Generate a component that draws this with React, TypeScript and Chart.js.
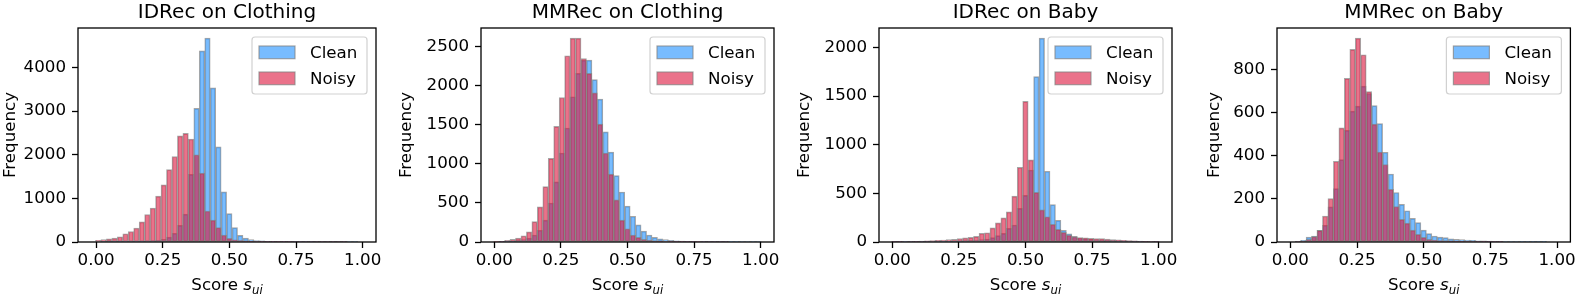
import React, { useEffect, useRef } from 'react';
import { Chart, registerables } from 'chart.js';

Chart.register(...registerables);

// ---------- data ----------
const binStart = -0.0025;
const binWidth = 0.0205;
const binCount = 50;
const binCenters = Array.from({ length: binCount }, (_, k) => binStart + binWidth * (k + 0.5));

const xTickValues = [0, 0.25, 0.5, 0.75, 1.0];
const xTickLabels = ['0.00', '0.25', '0.50', '0.75', '1.00'];

const seriesLabels = ['Clean', 'Noisy'];
const panelTitles = ['IDRec on Clothing', 'MMRec on Clothing', 'IDRec on Baby', 'MMRec on Baby'];

const idClothingClean = [0, 1, 2, 3, 5, 8, 10, 15, 20, 25, 30, 40, 60, 110, 200, 380, 640, 1550, 3060, 4380, 4670, 3530, 2180, 1150, 650, 330, 150, 90, 55, 35, 25, 18, 14, 10, 8, 6, 5, 4, 3, 3, 2, 2, 2, 1, 1, 1, 1, 1, 0, 0];
const idClothingNoisy = [40, 55, 70, 90, 120, 190, 240, 320, 460, 630, 780, 1050, 1310, 1660, 1960, 2430, 2490, 2360, 2000, 1580, 710, 500, 330, 160, 85, 50, 30, 20, 15, 10, 8, 6, 5, 4, 3, 3, 2, 2, 2, 1, 1, 1, 1, 1, 1, 1, 0, 0, 0, 0];
const idClothingYTicks = [0, 1000, 2000, 3000, 4000];

const mmClothingClean = [0, 2, 5, 10, 20, 30, 50, 90, 150, 280, 500, 770, 1140, 1460, 1860, 2160, 2330, 2330, 2080, 1830, 1410, 1150, 850, 640, 460, 330, 220, 140, 90, 60, 40, 30, 20, 15, 12, 10, 8, 6, 5, 4, 3, 3, 2, 2, 2, 1, 1, 1, 1, 0];
const mmClothingNoisy = [5, 10, 20, 35, 50, 80, 130, 260, 450, 710, 1070, 1480, 1850, 2385, 2610, 2610, 2350, 2160, 1910, 1510, 1140, 870, 540, 280, 170, 90, 60, 35, 20, 12, 8, 6, 5, 4, 3, 3, 2, 2, 1, 1, 1, 1, 1, 0, 0, 0, 0, 0, 0, 0];
const mmClothingYTicks = [0, 500, 1000, 1500, 2000, 2500];

const idBabyClean = [1, 1, 2, 2, 3, 3, 4, 5, 6, 7, 8, 10, 12, 14, 16, 18, 24, 30, 45, 65, 89, 140, 175, 346, 480, 740, 1700, 2095, 727, 385, 222, 120, 85, 58, 41, 35, 28, 24, 20, 18, 16, 14, 12, 10, 9, 8, 6, 5, 3, 0];
const idBabyNoisy = [3, 4, 5, 6, 8, 10, 12, 14, 17, 21, 24, 28, 36, 42, 48, 58, 90, 95, 145, 197, 248, 310, 472, 768, 1445, 844, 510, 330, 260, 182, 130, 100, 70, 52, 46, 42, 38, 36, 34, 30, 26, 22, 18, 15, 12, 10, 8, 6, 4, 0];
const idBabyYTicks = [0, 500, 1000, 1500, 2000];

const mmBabyClean = [0, 2, 8, 23, 28, 54, 78, 163, 248, 383, 519, 608, 631, 724, 690, 634, 550, 417, 316, 230, 175, 145, 110, 90, 55, 39, 28, 23, 20, 15, 12, 11, 9, 8, 6, 5, 4, 3, 3, 2, 2, 2, 1, 1, 1, 1, 1, 0, 0, 0];
const mmBabyNoisy = [0, 2, 5, 12, 25, 54, 121, 202, 375, 530, 760, 895, 947, 870, 699, 548, 418, 360, 245, 165, 105, 88, 55, 36, 22, 12, 8, 6, 5, 4, 3, 3, 2, 2, 1, 1, 1, 1, 1, 0, 0, 0, 0, 0, 0, 0, 0, 0, 0, 0];
const mmBabyYTicks = [0, 200, 400, 600, 800];

// ---------- styles / layout ----------
const FONT = '"DejaVu Sans", sans-serif';
const FS = 16.7;
const CLEAN_FILL = 'rgba(30,144,255,0.6)';
const NOISY_FILL = 'rgba(220,20,60,0.6)';
const EDGE = 'rgba(128,128,128,0.7)';
const H = 298;
const PLOT_TOP = 28;
const XAXIS_H = 56;

const panels = [
  { title: panelTitles[0], clean: idClothingClean, noisy: idClothingNoisy, yTicks: idClothingYTicks, left: 0, width: 395, plotLeft: 78, plotRight: 376, xMin: -0.068, xMax: 1.05, yLabelX: 14.5 },
  { title: panelTitles[1], clean: mmClothingClean, noisy: mmClothingNoisy, yTicks: mmClothingYTicks, left: 395, width: 395, plotLeft: 86, plotRight: 379, xMin: -0.05, xMax: 1.05, yLabelX: 16 },
  { title: panelTitles[2], clean: idBabyClean, noisy: idBabyNoisy, yTicks: idBabyYTicks, left: 790, width: 395, plotLeft: 89, plotRight: 382, xMin: -0.05, xMax: 1.05, yLabelX: 19 },
  { title: panelTitles[3], clean: mmBabyClean, noisy: mmBabyNoisy, yTicks: mmBabyYTicks, left: 1185, width: 394, plotLeft: 92, plotRight: 386, xMin: -0.05, xMax: 1.05, yLabelX: 34 },
];

const decorPlugin = {
  id: 'decor',
  afterDraw(chart: any, _args: any, opts: any) {
    const ctx = chart.ctx;
    const a = chart.chartArea;
    const cx = (a.left + a.right) / 2;
    ctx.save();
    // frame (spines)
    ctx.strokeStyle = '#000';
    ctx.lineWidth = 1.3;
    ctx.strokeRect(a.left, a.top, a.right - a.left, a.bottom - a.top);

    // title
    ctx.fillStyle = '#000';
    ctx.font = `20px ${FONT}`;
    ctx.textAlign = 'center';
    ctx.textBaseline = 'alphabetic';
    ctx.fillText(opts.title, cx, a.top - 10);

    // x label: Score s_ui
    ctx.textAlign = 'left';
    ctx.font = `${FS}px ${FONT}`;
    const w1 = ctx.measureText('Score ').width;
    ctx.font = `italic ${FS}px ${FONT}`;
    const w2 = ctx.measureText('s').width;
    ctx.font = `italic ${FS * 0.7}px ${FONT}`;
    const w3 = ctx.measureText('ui').width;
    let x = cx - (w1 + w2 + w3) / 2;
    const by = 290;
    ctx.font = `${FS}px ${FONT}`;
    ctx.fillText('Score ', x, by);
    x += w1;
    ctx.font = `italic ${FS}px ${FONT}`;
    ctx.fillText('s', x, by);
    x += w2;
    ctx.font = `italic ${FS * 0.7}px ${FONT}`;
    ctx.fillText('ui', x, by + 3.5);

    // y label
    ctx.save();
    ctx.translate(opts.yLabelX, (a.top + a.bottom) / 2);
    ctx.rotate(-Math.PI / 2);
    ctx.textAlign = 'center';
    ctx.font = `${FS}px ${FONT}`;
    ctx.fillText('Frequency', 0, 0);
    ctx.restore();

    // legend
    const bw = 115, bh = 57;
    const bx = a.right - 9 - bw;
    const byy = a.top + 9;
    ctx.beginPath();
    if (ctx.roundRect) ctx.roundRect(bx, byy, bw, bh, 3);
    else ctx.rect(bx, byy, bw, bh);
    ctx.fillStyle = 'rgba(255,255,255,0.8)';
    ctx.fill();
    ctx.strokeStyle = 'rgba(204,204,204,0.9)';
    ctx.lineWidth = 1.2;
    ctx.stroke();
    chart.data.datasets.forEach((ds: any, i: number) => {
      const py = byy + 9 + 26 * i;
      ctx.fillStyle = '#fff';
      ctx.fillRect(bx + 7, py, 36, 12.7);
      ctx.fillStyle = ds.backgroundColor;
      ctx.fillRect(bx + 7, py, 36, 12.7);
      ctx.strokeStyle = EDGE;
      ctx.lineWidth = 1.2;
      ctx.strokeRect(bx + 7, py, 36, 12.7);
      ctx.fillStyle = '#000';
      ctx.font = `${FS}px ${FONT}`;
      ctx.textAlign = 'left';
      ctx.fillText(ds.label, bx + 58, byy + 21.4 + 26 * i);
    });
    ctx.restore();
  },
};

function Panel({ p }: { p: any }) {
  const ref = useRef<HTMLCanvasElement | null>(null);
  useEffect(() => {
    if (!ref.current) return;
    const yMax = Math.max(...p.clean, ...p.noisy) * 1.05;
    const mk = (vals: number[]) => vals.map((v, i) => ({ x: binCenters[i], y: v }));
    const tickFont = { family: FONT, size: FS };
    const chart = new Chart(ref.current, {
      type: 'bar',
      data: {
        datasets: [
          { label: seriesLabels[0], data: mk(p.clean), backgroundColor: CLEAN_FILL, borderColor: EDGE, borderWidth: 1, borderSkipped: false, grouped: false, barPercentage: 1, categoryPercentage: 1, order: 1 },
          { label: seriesLabels[1], data: mk(p.noisy), backgroundColor: NOISY_FILL, borderColor: EDGE, borderWidth: 1, borderSkipped: false, grouped: false, barPercentage: 1, categoryPercentage: 1, order: 0 },
        ],
      } as any,
      options: {
        responsive: false,
        maintainAspectRatio: false,
        animation: false,
        devicePixelRatio: 1,
        layout: { padding: { left: 0, right: p.width - p.plotRight, top: PLOT_TOP, bottom: 0 } },
        plugins: {
          legend: { display: false },
          tooltip: { enabled: false },
          title: { display: false },
          decor: { title: p.title, yLabelX: p.yLabelX },
        } as any,
        scales: {
          x: {
            type: 'linear',
            min: p.xMin,
            max: p.xMax,
            offset: false,
            afterBuildTicks: (s: any) => { s.ticks = xTickValues.map((v) => ({ value: v })); },
            afterFit: (s: any) => { s.height = XAXIS_H; },
            ticks: { font: tickFont, color: '#000', padding: 3, maxRotation: 0, autoSkip: false, callback: (_v: any, i: number) => xTickLabels[i] },
            grid: { display: true, drawOnChartArea: false, drawTicks: true, tickLength: 6, tickWidth: 1.3, tickColor: '#000', offset: false },
            border: { display: false },
          },
          y: {
            type: 'linear',
            min: 0,
            max: yMax,
            afterBuildTicks: (s: any) => { s.ticks = p.yTicks.map((v: number) => ({ value: v })); },
            afterFit: (s: any) => { s.width = p.plotLeft; },
            ticks: { font: tickFont, color: '#000', padding: 6, autoSkip: false, callback: (v: any) => String(v) },
            grid: { display: true, drawOnChartArea: false, drawTicks: true, tickLength: 6, tickWidth: 1.3, tickColor: '#000' },
            border: { display: false },
          },
        } as any,
      },
      plugins: [decorPlugin as any],
    });
    return () => chart.destroy();
  }, [p]);
  return (
    <canvas
      ref={ref}
      width={p.width}
      height={H}
      style={{ position: 'absolute', left: p.left, top: 0, width: p.width, height: H }}
    />
  );
}

export default function App() {
  return (
    <div style={{ position: 'absolute', left: 0, top: 0, width: 1579, height: H, background: '#fff', overflow: 'hidden' }}>
      {panels.map((p) => (
        <Panel key={p.title} p={p} />
      ))}
    </div>
  );
}
